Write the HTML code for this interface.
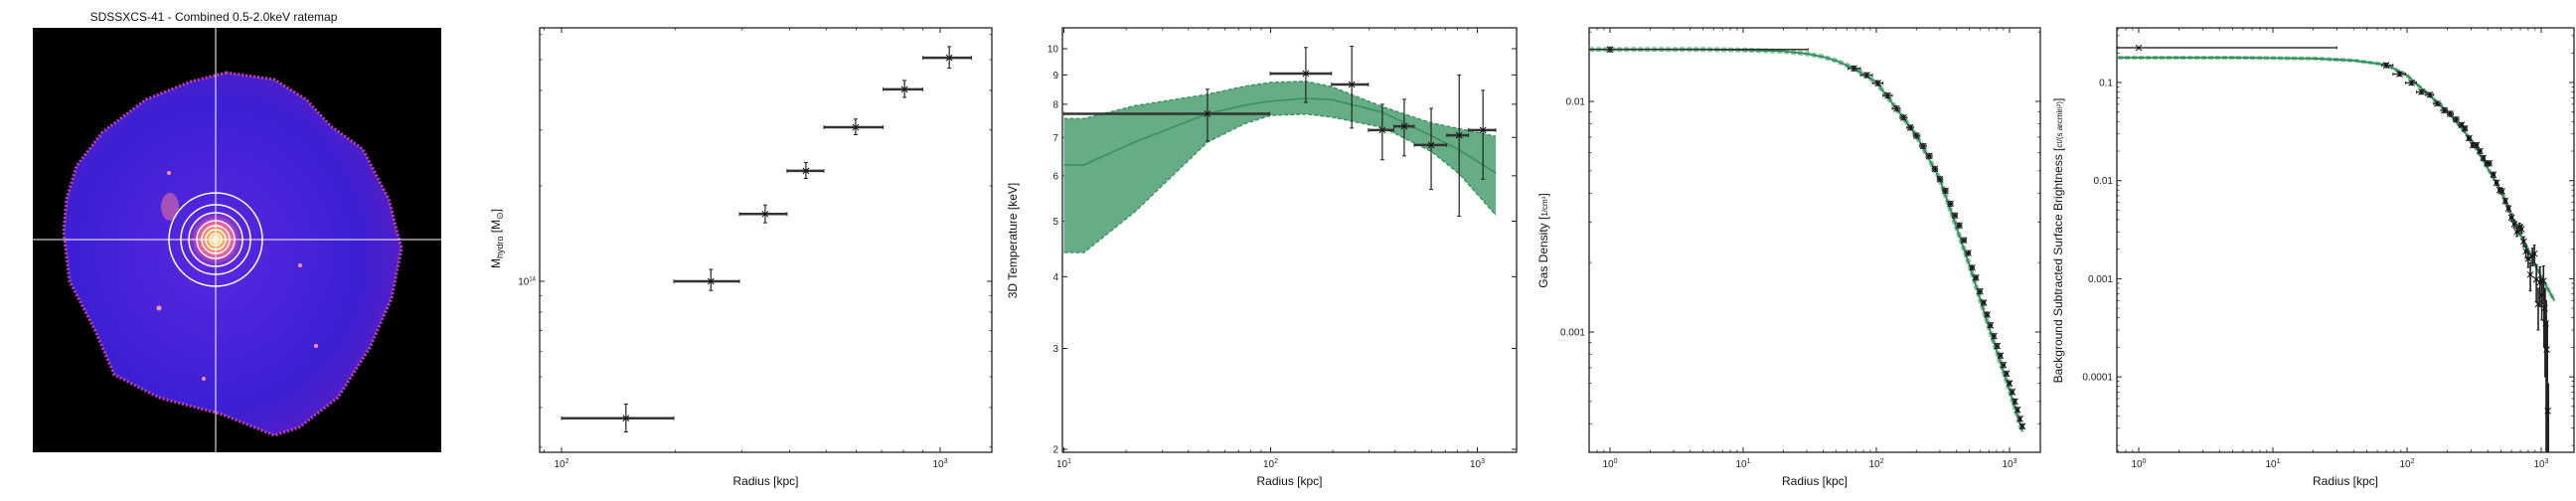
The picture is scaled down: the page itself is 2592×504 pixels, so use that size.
<!DOCTYPE html>
<html><head><meta charset="utf-8">
<style>
html,body{margin:0;padding:0;background:#fff;}
svg{display:block;font-family:"Liberation Sans",sans-serif;}
.tk{font-family:"Liberation Sans Narrow","Liberation Sans",sans-serif;font-size:10px;fill:#222;}
.lab{font-size:12px;fill:#111;}
</style></head>
<body>
<svg id="chart" width="2592" height="504" viewBox="0 0 2592 504" xmlns="http://www.w3.org/2000/svg">
<defs>
<radialGradient id="core" cx="0.5" cy="0.5" r="0.5">
<stop offset="0" stop-color="#fff3a0"/><stop offset="0.25" stop-color="#ffb050"/><stop offset="0.55" stop-color="#f060a0"/><stop offset="1" stop-color="#8030e0" stop-opacity="0"/>
</radialGradient>
<radialGradient id="blobg" cx="0.45" cy="0.5" r="0.6">
<stop offset="0" stop-color="#5a28e0"/><stop offset="0.7" stop-color="#3c1fd4"/><stop offset="1" stop-color="#5a1fc0"/>
</radialGradient>
<clipPath id="imgclip"><rect x="33" y="28" width="411" height="427"/></clipPath>
<clipPath id="c2"><rect x="543" y="28" width="455" height="427"/></clipPath>
<clipPath id="c3"><rect x="1069" y="28" width="457" height="427"/></clipPath>
<clipPath id="c4"><rect x="1599" y="28" width="454" height="427"/></clipPath>
<clipPath id="c5"><rect x="2130" y="28" width="460" height="427"/></clipPath>
</defs>
<g>
<text x="215" y="21" text-anchor="middle" style="font-family:'Liberation Sans Narrow','Liberation Sans',sans-serif;font-size:12px" fill="#111">SDSSXCS-41 - Combined 0.5-2.0keV ratemap</text>
<g clip-path="url(#imgclip)">
<rect x="33" y="28" width="411" height="427" fill="#000"/>
<polygon points="228,73 192,82 147,100 103,133 77,167 67,200 64,233 70,283 96,333 115,377 160,400 224,417 256,430 276,438 301,430 340,400 372,350 394,300 404,250 391,200 365,150 333,127 308,100 276,80" fill="url(#blobg)" stroke="#c040b0" stroke-width="3" stroke-dasharray="2 2"/>
<ellipse cx="171" cy="208" rx="9" ry="14" fill="#e070a0" opacity="0.6"/>
<circle cx="160" cy="310" r="2.5" fill="#ff90a0"/>
<circle cx="302" cy="267" r="2" fill="#ff90a0"/>
<circle cx="318" cy="348" r="2" fill="#ff90a0"/>
<circle cx="205" cy="381" r="2" fill="#ff90a0"/>
<circle cx="170" cy="174" r="2" fill="#ff90a0"/>
<circle cx="217" cy="241" r="30" fill="url(#core)"/>
<line x1="217" y1="28" x2="217" y2="455" stroke="#fff" stroke-width="1"/>
<line x1="33" y1="241" x2="444" y2="241" stroke="#fff" stroke-width="1"/>
<g fill="none" stroke="#fff" stroke-width="1.5">
<circle cx="217" cy="241" r="47"/><circle cx="217" cy="241" r="35"/><circle cx="217" cy="241" r="27"/>
<circle cx="217" cy="241" r="19"/><circle cx="217" cy="241" r="14"/><circle cx="217" cy="241" r="10"/><circle cx="217" cy="241" r="6"/><circle cx="217" cy="241" r="3"/>
</g>
</g>
</g>
</svg>
<script>
// ---- data ----
const massR=[148,248,345,442,598,805,1057];
const massRlo=[100,198,295,394,493,707,900];
const massRhi=[198,295,394,493,707,900,1210];
const massM=[0.37,1.0,1.63,2.23,3.06,4.03,5.07];
const massLo=[0.335,0.935,1.53,2.11,2.9,3.8,4.7];
const massHi=[0.41,1.09,1.74,2.37,3.25,4.3,5.5];

const tempR=[49.5,148,247,347,443,598,817,1065];
const tempRlo=[10,99.5,197,297,395,495,711,906];
const tempRhi=[99,197,297,395,495,711,906,1228];
const tempT=[7.7,9.05,8.66,7.21,7.32,6.79,7.06,7.21];
const tempLo=[6.9,8.06,7.27,6.4,6.5,5.68,5.1,5.92];
const tempHi=[8.5,10.05,10.1,8.0,8.16,7.87,9.0,8.46];
const tmodR=[10,12.5,22,49.5,75,100,148,197,347,598,817,1230];
const tmodT=[6.27,6.27,6.87,7.7,7.97,8.1,8.19,8.15,7.75,7.05,6.66,6.07];
const tmodUp=[7.55,7.55,7.95,8.32,8.6,8.73,8.77,8.59,7.92,7.42,7.25,7.03];
const tmodLow=[4.41,4.41,5.19,6.87,7.4,7.65,7.69,7.6,7.29,6.62,6.05,5.12];

const densR=[1,68,85,103,122,142,160,180,200,225,250,275,300,330,360,390,420,455,490,525,560,600,640,680,720,765,810,855,900,950,1000,1050,1100,1150,1200,1250];
const densV=[0.0168,0.0139,0.0130,0.0120,0.0106,0.0093,0.0085,0.0077,0.0071,0.0064,0.0058,0.0051,0.0046,0.0041,0.0036,0.0032,0.0029,0.0025,0.0022,0.0019,0.00172,0.00150,0.00134,0.00119,0.00107,0.00096,0.00087,0.00079,0.00072,0.00066,0.00060,0.00055,0.00050,0.00046,0.00042,0.00039];
const densFirstRlo=0.7, densFirstRhi=30.7;
const dmodR=[0.7,5,10,20,30,40,50,70,100,150,200,300,500,700,1000,1250];
const dmodV=[0.0168,0.0168,0.0167,0.0165,0.0161,0.0156,0.015,0.0138,0.0121,0.0089,0.0071,0.0046,0.00195,0.00105,0.00056,0.00037];

const sbR=[1,70,88,108,128,148,168,190,210,232,255,270,290,310,330,350,370,395,410,440,465,490,510,540,570,600,630,660,690,715,740,770,800,830,860,890,920,950,980,1010,1040,1060,1080,1100,1120];
const sbV=[0.226,0.150,0.122,0.099,0.080,0.075,0.061,0.052,0.048,0.042,0.037,0.034,0.027,0.023,0.023,0.020,0.017,0.015,0.015,0.0115,0.0095,0.0080,0.0078,0.0062,0.0052,0.0042,0.0036,0.0030,0.0034,0.0032,0.0024,0.0019,0.0016,0.0011,0.0017,0.0018,0.00098,0.00055,0.00092,0.00068,0.00095,0.00050,0.00035,0.00019,0.000045];
const sbErr=[0.004,0.008,0.006,0.005,0.004,0.004,0.003,0.003,0.003,0.0025,0.002,0.002,0.0015,0.0013,0.0013,0.0011,0.001,0.0009,0.0009,0.0007,0.0006,0.0005,0.0005,0.0004,0.0004,0.00035,0.0003,0.0003,0.0003,0.0003,0.00028,0.00028,0.0003,0.00035,0.00035,0.0004,0.0004,0.00025,0.0004,0.0003,0.0004,0.0003,0.00025,0.00018,0.00004];
const sbFirstRlo=0.7, sbFirstRhi=30;
const sbModR=[0.7,5,20,40,70,100,150,200,300,500,700,1000,1250];
const sbModV=[0.179,0.179,0.176,0.168,0.152,0.118,0.072,0.051,0.026,0.0079,0.0028,0.00105,0.0006];

// ---- helpers ----
const NS='http://www.w3.org/2000/svg';
const svg=document.getElementById('chart');
function mk(tag,attrs,parent){const e=document.createElementNS(NS,tag);for(const k in attrs)e.setAttribute(k,attrs[k]);(parent||svg).appendChild(e);return e;}
function logScale(v0,p0,ppd){return v=>p0+ppd*Math.log10(v/v0);}

function frame(name,x0,y0,x1,y1,xs,ys,xTicks,xMinor,yTicks,yMinor,xLab,yLab){
  const g=mk('g',{});
  
  
  const r=mk('rect',{x:x0,y:y0,width:x1-x0,height:y1-y0,fill:'none',stroke:'#222','stroke-width':1.3},g);
  
  
  xTicks.forEach((v,i)=>{const p=xs(v);
    const t=mk('path',{d:`M${p},${y1}v-5M${p},${y0}v5`,stroke:'#222','stroke-width':1},g);
    
    
    const tx=mk('text',{x:p,y:y1+15,'text-anchor':'middle',class:'tk'},g);
    
    
    tx.textContent='10';
    const s=mk('tspan',{dy:-4,'font-size':7},tx); s.textContent=String(Math.round(Math.log10(v)));
  });
  xMinor.forEach(v=>{const p=xs(v); if(p<x0||p>x1)return;
    const t=mk('path',{d:`M${p},${y1}v-2.5M${p},${y0}v2.5`,stroke:'#222','stroke-width':0.8},g);
    
    });
  yTicks.forEach(o=>{const p=ys(o.v);
    const t=mk('path',{d:`M${x0},${p}h5M${x1},${p}h-5`,stroke:'#222','stroke-width':1},g);
    
    
    const tx=mk('text',{x:x0-4,y:p+3.5,'text-anchor':'end',class:'tk'},g);
    
    
    if(o.sup){tx.textContent='10';const s=mk('tspan',{dy:-4,'font-size':6},tx);s.textContent=o.sup;}
    else tx.textContent=o.t;
  });
  yMinor.forEach(v=>{const p=ys(v); if(p<y0||p>y1)return;
    const t=mk('path',{d:`M${x0},${p}h2.5M${x1},${p}h-2.5`,stroke:'#222','stroke-width':0.8},g);
    
    });
  const xl=mk('text',{x:(x0+x1)/2,y:488,'text-anchor':'middle',class:'lab'},g);
  
  
  xl.textContent=xLab;
  return g;
}
function minors(decStart,decEnd){const a=[];for(let d=decStart;d<=decEnd;d++)for(let m=2;m<=9;m++)a.push(m*Math.pow(10,d));return a;}
function errbar(g,x,y,xl,xh,yl,yh,hw,vw,cap){
  if(xl!==null){const l=mk('line',{x1:xl,x2:xh,y1:y,y2:y,stroke:'#333','stroke-width':hw},g);
    
    
    const c=mk('path',{d:`M${xl},${y-cap}v${2*cap}M${xh},${y-cap}v${2*cap}`,stroke:'#333','stroke-width':1},g);
    
    }
  if(yl!==null){const l=mk('line',{x1:x,x2:x,y1:yl,y2:yh,stroke:'#222','stroke-width':vw},g);
    
    
    const c=mk('path',{d:`M${x-cap},${yl}h${2*cap}M${x-cap},${yh}h${2*cap}`,stroke:'#222','stroke-width':1},g);
    
    }
  const m=mk('path',{d:`M${x-3},${y-3}l6,6M${x-3},${y+3}l6,-6`,stroke:'#111','stroke-width':1},g);
  
  
}
function linePath(xs,ys,X,Y){return X.map((v,i)=>(i?'L':'M')+xs(v).toFixed(1)+','+ys(Y[i]).toFixed(1)).join('');}
function rotLabel(x,y,name){const t=mk('text',{x:0,y:0,transform:`translate(${x},${y}) rotate(-90)`,'text-anchor':'middle',class:'lab'});
  
  
  return t;}

// ---- panel 2: hydrostatic mass ----
{
 const xs=logScale(100,565,381), ys=logScale(1,283,-319);
 frame('mass',543,28,998,455,xs,ys,[100,1000],minors(1,3),[{v:1,sup:'14'}],[0.3,0.4,0.5,0.6,0.7,0.8,0.9,2,3,4,5,6],'Radius [kpc]');
 const t=rotLabel(503,240,'mass-y-axis-title');
 t.textContent='M';
 const s1=mk('tspan',{'font-size':9,dy:3},t); s1.textContent='hydro';
 const s2=mk('tspan',{dy:-3},t); s2.textContent=' [M';
 const s3=mk('tspan',{'font-size':9,dy:3},t); s3.textContent='⊙';
 const s4=mk('tspan',{dy:-3},t); s4.textContent=']';
 const g=mk('g',{'clip-path':'url(#c2)'});
 
 
 massR.forEach((r,i)=>errbar(g,xs(r),ys(massM[i]),xs(massRlo[i]),xs(massRhi[i]),ys(massLo[i]),ys(massHi[i]),2.5,1.2,2));
}
// ---- panel 3: temperature ----
{
 const xs=logScale(10,1070.5,208), ys=logScale(10,49,-576.5);
 frame('temperature',1069,28,1526,455,xs,ys,[10,100,1000],minors(1,3),[2,3,4,5,6,7,8,9,10].map(v=>({v,t:String(v)})),[],'Radius [kpc]');
 const t=rotLabel(1023,242,'temperature-y-axis-title'); t.textContent='3D Temperature [keV]';
 const g=mk('g',{'clip-path':'url(#c3)'});
 
 
 const bandD=linePath(xs,ys,tmodR,tmodUp)+tmodR.slice().reverse().map((v,i)=>'L'+xs(v).toFixed(1)+','+ys(tmodLow[tmodR.length-1-i]).toFixed(1)).join('')+'Z';
 const band=mk('path',{d:bandD,fill:'#66ac85',stroke:'none'},g);
 
 
 const up=mk('path',{d:linePath(xs,ys,tmodR,tmodUp),fill:'none',stroke:'#3f9466','stroke-width':1.5,'stroke-dasharray':'4 2'},g);
 
 
 const lo=mk('path',{d:linePath(xs,ys,tmodR,tmodLow),fill:'none',stroke:'#3f9466','stroke-width':1.5,'stroke-dasharray':'4 2'},g);
 
 
 const md=mk('path',{d:linePath(xs,ys,tmodR,tmodT),fill:'none',stroke:'#3a9160','stroke-width':1.6},g);
 
 
 tempR.forEach((r,i)=>errbar(g,xs(r),ys(tempT[i]),xs(tempRlo[i]),xs(tempRhi[i]),ys(tempLo[i]),ys(tempHi[i]),2.5,1.2,2));
}
// ---- panel 4: density ----
{
 const xs=logScale(1,1620,134), ys=logScale(0.01,102,-232);
 frame('density',1599,28,2053,455,xs,ys,[1,10,100,1000],minors(-1,3),[{v:0.01,t:'0.01'},{v:0.001,t:'0.001'}],minors(-4,-2),'Radius [kpc]');
 const t=rotLabel(1557,242,'density-y-axis-title'); t.textContent='Gas Density  [';
 const f=mk('tspan',{'font-size':8},t); f.textContent='1/cm³';
 const f2=mk('tspan',{},t); f2.textContent=']';
 const g=mk('g',{'clip-path':'url(#c4)'});
 
 
 const band=mk('path',{d:linePath(xs,ys,dmodR,dmodV),fill:'none',stroke:'#8cc7a4','stroke-width':5,'stroke-dasharray':'5 2'},g);
 
 
 const md=mk('path',{d:linePath(xs,ys,dmodR,dmodV),fill:'none',stroke:'#2e8b57','stroke-width':1.8},g);
 
 
 densR.forEach((r,i)=>{
   let lo,hi;
   if(i===0){lo=densFirstRlo;hi=densFirstRhi;}
   else{const prev=densR[i-1],next=densR[i+1]||r*r/prev;lo=i===1?r*0.9:Math.sqrt(prev*r);hi=Math.sqrt(r*next);}
   const y=ys(densV[i]);
   errbar(g,xs(r),y,xs(lo),xs(hi),y-2.5,y+2.5,1.5,1,1.5);
 });
}
// ---- panel 5: surface brightness ----
{
 const xs=logScale(1,2152,135), ys=logScale(0.1,83,-98.7);
 frame('surface-brightness',2130,28,2590,455,xs,ys,[1,10,100,1000],minors(-1,3),[{v:0.1,t:'0.1'},{v:0.01,t:'0.01'},{v:0.001,t:'0.001'},{v:0.0001,t:'0.0001'}],minors(-5,-1),'Radius [kpc]');
 const t=rotLabel(2075,242,'surface-brightness-y-axis-title'); t.textContent='Background Subtracted Surface Brightness  [';
 const f=mk('tspan',{'font-size':8},t); f.textContent='ct/(s arcmin²)';
 const f2=mk('tspan',{},t); f2.textContent=']';
 const g=mk('g',{'clip-path':'url(#c5)'});
 
 
 const band=mk('path',{d:linePath(xs,ys,sbModR,sbModV),fill:'none',stroke:'#8cc7a4','stroke-width':4,'stroke-dasharray':'5 2'},g);
 
 
 const md=mk('path',{d:linePath(xs,ys,sbModR,sbModV),fill:'none',stroke:'#2e8b57','stroke-width':1.8},g);
 
 
 sbR.forEach((r,i)=>{
   let lo,hi;
   if(i===0){lo=sbFirstRlo;hi=sbFirstRhi;}
   else{const prev=i===1?r*0.85:sbR[i-1],next=sbR[i+1]||r*1.02;lo=Math.sqrt(prev*r);hi=Math.sqrt(r*next);}
   const v=sbV[i],e=sbErr[i];
   const yl=v-e>0?ys(v-e):470;
   errbar(g,xs(r),ys(v),xs(lo),xs(hi),yl,ys(v+e),1.5,e/v>0.5?2.8:1.6,1.5);
 });
}
</script>
</body></html>
